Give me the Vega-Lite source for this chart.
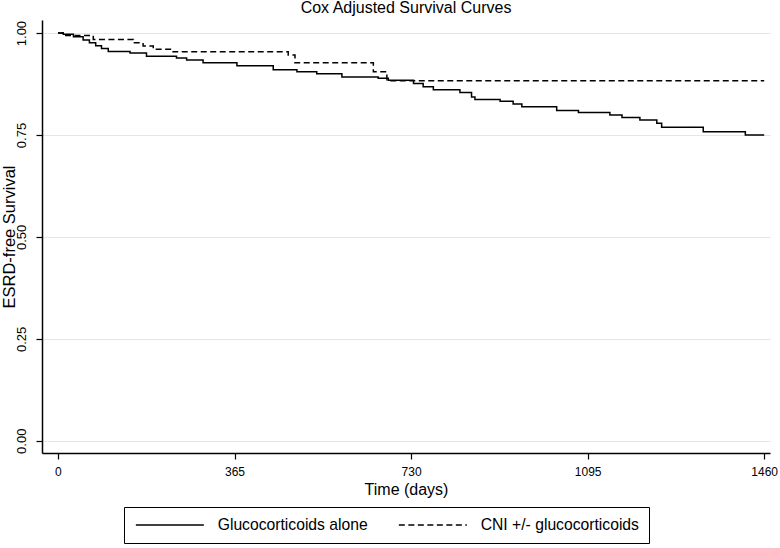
{
  "$schema": "https://vega.github.io/schema/vega-lite/v6.json",
  "autosize": {"type": "none"},
  "padding": {"left": 42, "top": 20, "right": 10, "bottom": 95},
  "width": 728,
  "height": 433,
  "background": "white",
  "title": {"text": "Cox Adjusted Survival Curves", "fontSize": 16, "fontWeight": "normal", "font": "Liberation Sans", "color": "black", "offset": 4},
  "config": {
    "view": {"stroke": null},
    "font": "Liberation Sans",
    "axis": {"domainColor": "black", "domainWidth": 1.5, "tickColor": "black", "tickWidth": 1.2, "tickSize": 6, "labelColor": "black", "titleColor": "black", "labelFontSize": 12, "titleFontSize": 16, "titleFontWeight": "normal", "labelFont": "Liberation Sans", "titleFont": "Liberation Sans"}
  },
  "data": {"values": [
    {"group": "Glucocorticoids alone", "day": 0, "surv": 1.000},
    {"group": "Glucocorticoids alone", "day": 11, "surv": 0.997},
    {"group": "Glucocorticoids alone", "day": 32, "surv": 0.991},
    {"group": "Glucocorticoids alone", "day": 52, "surv": 0.983},
    {"group": "Glucocorticoids alone", "day": 65, "surv": 0.976},
    {"group": "Glucocorticoids alone", "day": 78, "surv": 0.969},
    {"group": "Glucocorticoids alone", "day": 90, "surv": 0.962},
    {"group": "Glucocorticoids alone", "day": 104, "surv": 0.955},
    {"group": "Glucocorticoids alone", "day": 149, "surv": 0.951},
    {"group": "Glucocorticoids alone", "day": 183, "surv": 0.943},
    {"group": "Glucocorticoids alone", "day": 245, "surv": 0.939},
    {"group": "Glucocorticoids alone", "day": 266, "surv": 0.934},
    {"group": "Glucocorticoids alone", "day": 300, "surv": 0.927},
    {"group": "Glucocorticoids alone", "day": 370, "surv": 0.920},
    {"group": "Glucocorticoids alone", "day": 445, "surv": 0.910},
    {"group": "Glucocorticoids alone", "day": 494, "surv": 0.905},
    {"group": "Glucocorticoids alone", "day": 535, "surv": 0.900},
    {"group": "Glucocorticoids alone", "day": 587, "surv": 0.892},
    {"group": "Glucocorticoids alone", "day": 662, "surv": 0.889},
    {"group": "Glucocorticoids alone", "day": 683, "surv": 0.884},
    {"group": "Glucocorticoids alone", "day": 735, "surv": 0.876},
    {"group": "Glucocorticoids alone", "day": 755, "surv": 0.868},
    {"group": "Glucocorticoids alone", "day": 776, "surv": 0.861},
    {"group": "Glucocorticoids alone", "day": 831, "surv": 0.854},
    {"group": "Glucocorticoids alone", "day": 855, "surv": 0.843},
    {"group": "Glucocorticoids alone", "day": 862, "surv": 0.837},
    {"group": "Glucocorticoids alone", "day": 914, "surv": 0.833},
    {"group": "Glucocorticoids alone", "day": 941, "surv": 0.826},
    {"group": "Glucocorticoids alone", "day": 959, "surv": 0.819},
    {"group": "Glucocorticoids alone", "day": 1031, "surv": 0.810},
    {"group": "Glucocorticoids alone", "day": 1076, "surv": 0.805},
    {"group": "Glucocorticoids alone", "day": 1141, "surv": 0.799},
    {"group": "Glucocorticoids alone", "day": 1166, "surv": 0.793},
    {"group": "Glucocorticoids alone", "day": 1203, "surv": 0.787},
    {"group": "Glucocorticoids alone", "day": 1238, "surv": 0.779},
    {"group": "Glucocorticoids alone", "day": 1248, "surv": 0.769},
    {"group": "Glucocorticoids alone", "day": 1334, "surv": 0.758},
    {"group": "Glucocorticoids alone", "day": 1421, "surv": 0.750},
    {"group": "Glucocorticoids alone", "day": 1460, "surv": 0.750},
    {"group": "CNI +/- glucocorticoids", "day": 0, "surv": 1.000},
    {"group": "CNI +/- glucocorticoids", "day": 14, "surv": 0.994},
    {"group": "CNI +/- glucocorticoids", "day": 73, "surv": 0.984},
    {"group": "CNI +/- glucocorticoids", "day": 156, "surv": 0.976},
    {"group": "CNI +/- glucocorticoids", "day": 176, "surv": 0.968},
    {"group": "CNI +/- glucocorticoids", "day": 197, "surv": 0.960},
    {"group": "CNI +/- glucocorticoids", "day": 238, "surv": 0.954},
    {"group": "CNI +/- glucocorticoids", "day": 476, "surv": 0.946},
    {"group": "CNI +/- glucocorticoids", "day": 490, "surv": 0.927},
    {"group": "CNI +/- glucocorticoids", "day": 652, "surv": 0.905},
    {"group": "CNI +/- glucocorticoids", "day": 680, "surv": 0.883},
    {"group": "CNI +/- glucocorticoids", "day": 1460, "surv": 0.883}
  ]},
  "mark": {"type": "line", "interpolate": "step-after", "color": "black", "strokeWidth": 1.5},
  "encoding": {
    "x": {"field": "day", "type": "quantitative", "title": "Time (days)",
      "scale": {"domain": [-33, 1472], "nice": false, "zero": false},
      "axis": {"values": [0, 365, 730, 1095, 1460], "format": "d", "grid": false, "labelPadding": 7, "titlePadding": 4}},
    "y": {"field": "surv", "type": "quantitative", "title": "ESRD-free Survival",
      "scale": {"domain": [-0.03, 1.032], "nice": false, "zero": false},
      "axis": {"values": [0, 0.25, 0.5, 0.75, 1], "format": ".2f", "labelAngle": 270, "labelFontSize": 13, "titleFontSize": 16.5, "grid": true, "gridColor": "#dfe7eb", "gridWidth": 1.2, "labelPadding": 8, "titlePadding": -2}},
    "strokeDash": {"field": "group", "type": "nominal",
      "scale": {"domain": ["Glucocorticoids alone", "CNI +/- glucocorticoids"], "range": [[1, 0], [6, 3.5]]},
      "legend": {"title": null, "orient": "none", "legendX": 82, "legendY": 487, "direction": "horizontal",
        "strokeColor": "black", "padding": 10, "symbolType": "M-6.8,0H6.8", "symbolSize": 100, "symbolOffset": 28, "symbolStrokeWidth": 1.5, "symbolStrokeColor": "black",
        "labelFontSize": 15.7, "labelColor": "black", "labelOffset": 40, "columnPadding": 27, "labelLimit": 300}}
  }
}
